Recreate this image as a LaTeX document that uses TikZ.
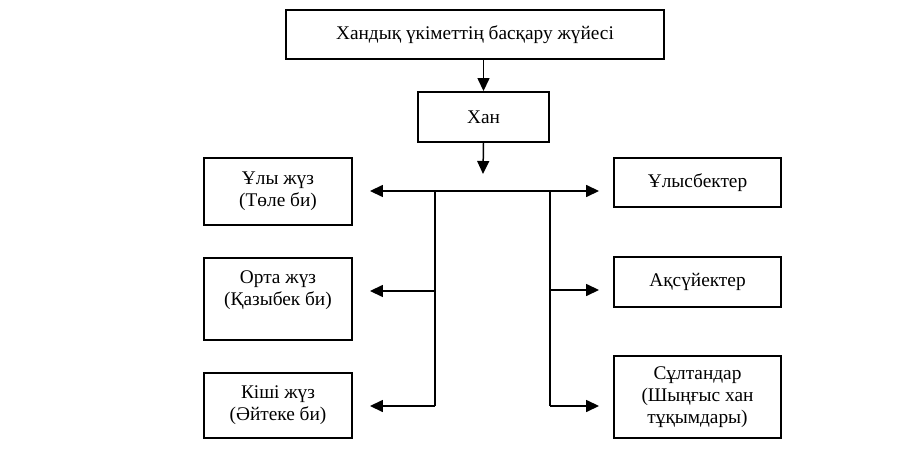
\documentclass[tikz,border=0pt]{standalone}
\usepackage{fontspec}
\setmainfont{Liberation Serif}
\usetikzlibrary{arrows.meta}
\tikzset{
  box/.style={draw, line width=1.1pt, align=center, inner sep=0pt,
              font=\fontsize{11}{12.6}\selectfont},
  arr/.style={line width=0.85pt, -{Triangle[length=0.26cm, width=0.24cm]}},
  bus/.style={line width=0.85pt}
}
\begin{document}
\begin{tikzpicture}[x=0.02cm, y=-0.02cm]
  \useasboundingbox (0,0) rectangle (917,453);
  \node [box, minimum width=7.56cm, minimum height=0.98cm] (zhuie) at (475,34.5) {Хандық үкіметтің басқару жүйесі};
  \node [box, minimum width=2.62cm, minimum height=1cm] (han) at (483.5,117) {Хан};
  \node [box, minimum width=2.96cm, minimum height=1.34cm] (uly) at (278,191.5) {Ұлы жүз\\(Төле би)};
  \node [box, minimum width=2.96cm, minimum height=1.64cm] (orta) at (278,299) {Орта жүз\\(Қазыбек би)\\\mbox{}};
  \node [box, minimum width=2.96cm, minimum height=1.3cm] (kishi) at (278,405.5) {Кіші жүз\\(Әйтеке би)};
  \node [box, minimum width=3.34cm, minimum height=0.98cm] (ulys) at (697.5,182.5) {Ұлысбектер};
  \node [box, minimum width=3.34cm, minimum height=1cm] (aksuiek) at (697.5,282) {Ақсүйектер};
  \node [box, minimum width=3.34cm, minimum height=1.64cm] (sultan) at (697.5,397) {Сұлтандар\\(Шыңғыс хан\\тұқымдары)};
  \coordinate (hub) at (483,174);
  \coordinate (jL) at (435,191);
  \coordinate (jR) at (550,191);
  \coordinate (jL2) at (435,291);
  \coordinate (jL3) at (435,406);
  \coordinate (jR2) at (550,290);
  \coordinate (jR3) at (550,406);
  \draw [arr] (han.north |- zhuie.south) -- (han.north);
  \draw [arr] (han.south) -- (hub);
  \draw [bus] (jL) -- (jR)
              (jL) -- (jL3)
              (jR) -- (jR3);
  \draw [arr, shorten >=0.34cm] (jL) -- (uly.east |- jL);
  \draw [arr, shorten >=0.34cm] (jL2) -- (orta.east |- jL2);
  \draw [arr, shorten >=0.34cm] (jL3) -- (kishi.east |- jL3);
  \draw [arr, shorten >=0.28cm] (jR) -- (ulys.west |- jR);
  \draw [arr, shorten >=0.28cm] (jR2) -- (aksuiek.west |- jR2);
  \draw [arr, shorten >=0.28cm] (jR3) -- (sultan.west |- jR3);
\end{tikzpicture}
\end{document}
